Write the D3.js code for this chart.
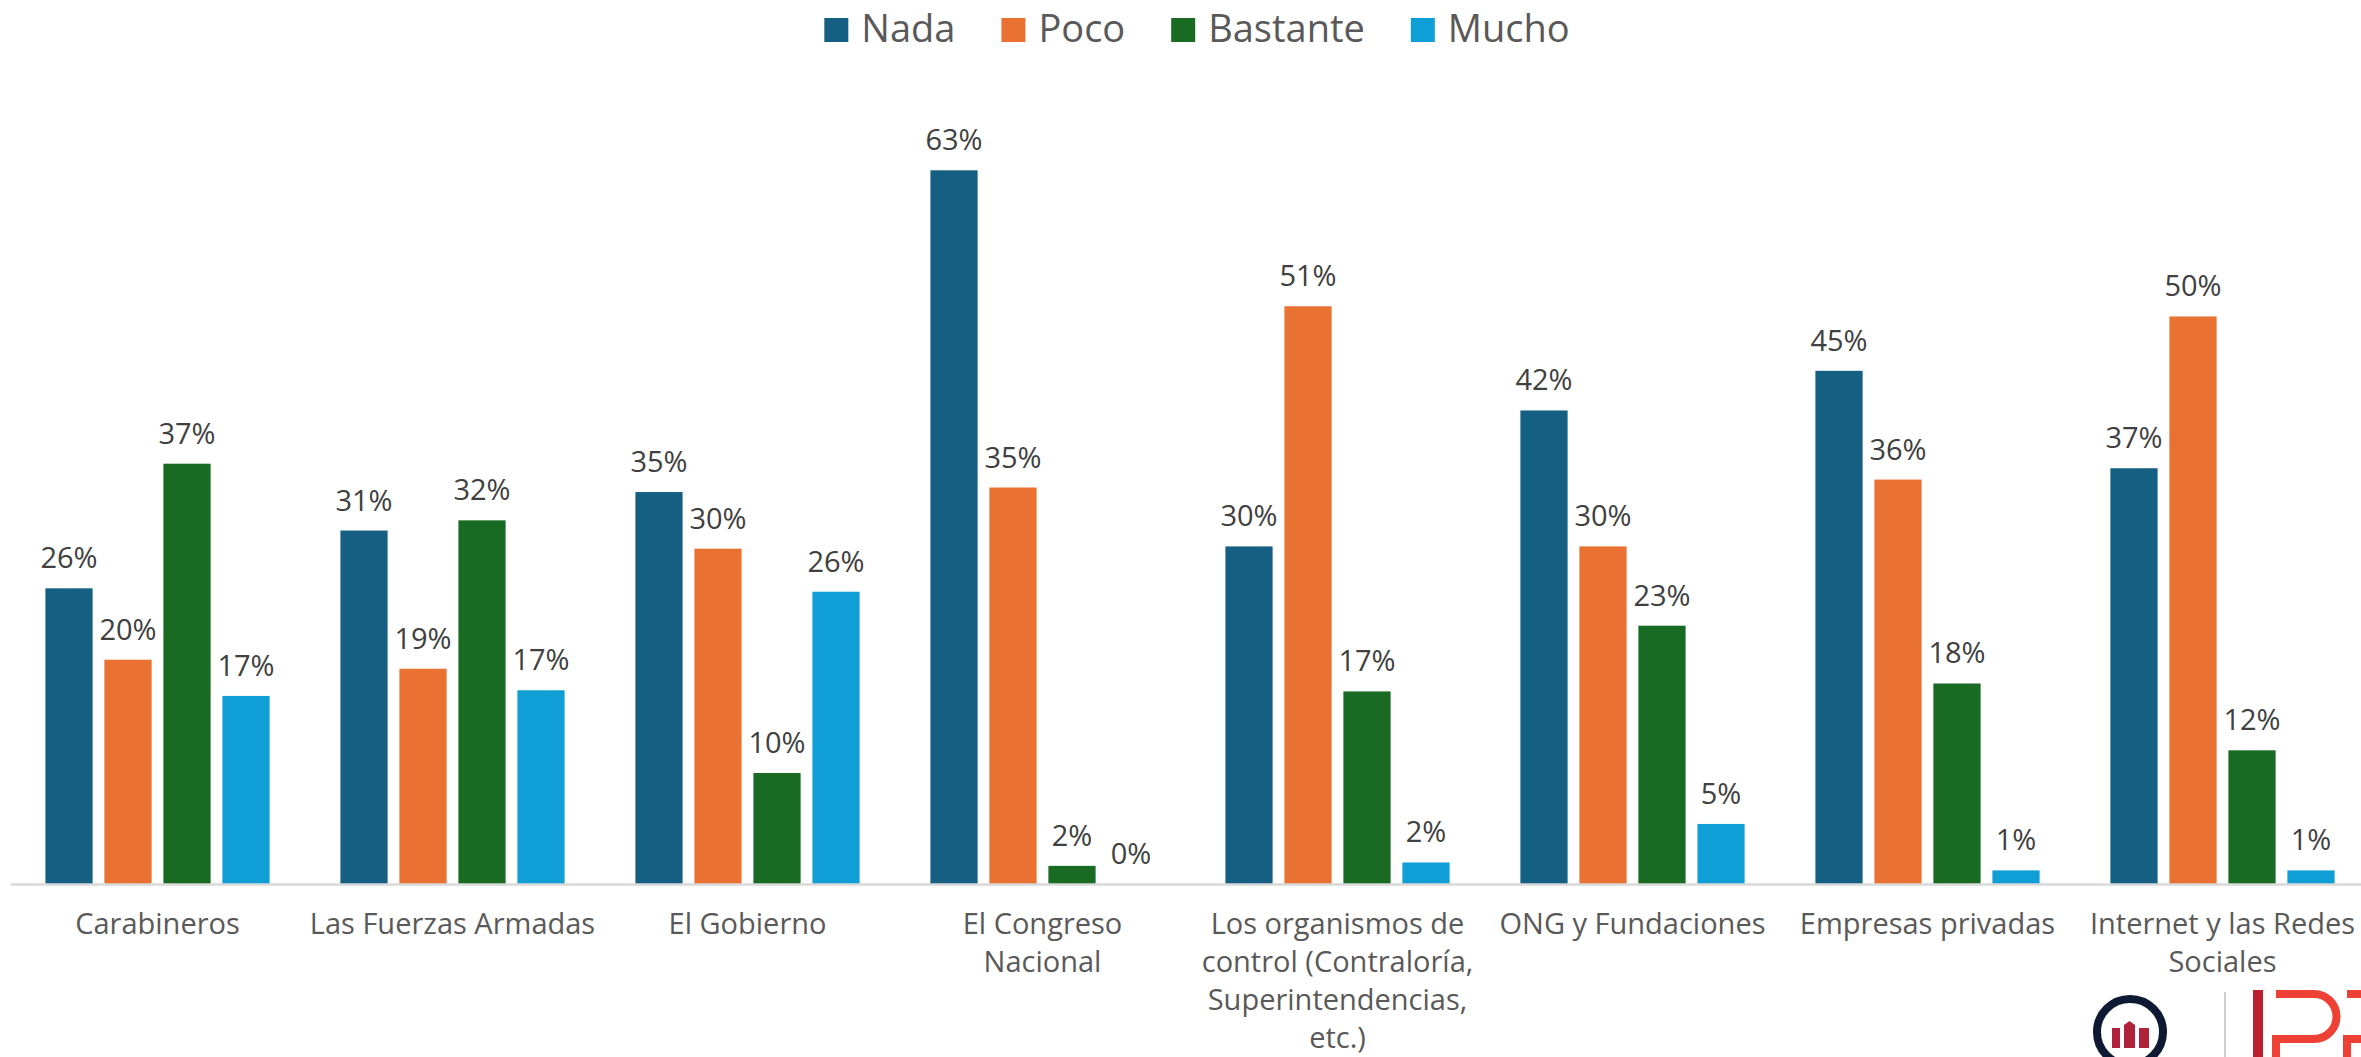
<!DOCTYPE html>
<html><head><meta charset="utf-8">
<script src="https://cdn.jsdelivr.net/npm/d3@7"></script>
<style>html,body{margin:0;padding:0;background:#fff;overflow:hidden}</style>
</head><body>
<svg id="chart" width="2361" height="1057"></svg>
<script>
const categories = ["Carabineros","Las Fuerzas Armadas","El Gobierno","El Congreso\nNacional","Los organismos de\ncontrol (Contraloría,\nSuperintendencias,\netc.)","ONG y Fundaciones","Empresas privadas","Internet y las Redes\nSociales"];
const series = ["Nada","Poco","Bastante","Mucho"];
const nada = [26.1,31.2,34.6,63.0,29.8,41.8,45.3,36.7];
const poco = [19.8,19.0,29.6,35.0,51.0,29.8,35.7,50.1];
const bastante = [37.1,32.1,9.8,1.6,17.0,22.8,17.7,11.8];
const mucho = [16.6,17.1,25.8,0,1.9,5.3,1.2,1.2];
const colors = ["#156082","#E97132","#196B24","#0F9ED5"];

const values = [nada, poco, bastante, mucho];
const font = "'Open Sans', sans-serif";
const svg = d3.select("#chart");

const x0 = d3.scaleBand().domain(categories).range([10, 2370]).paddingInner(0).paddingOuter(0);
const x1 = d3.scaleBand().domain(series).range([0, x0.bandwidth()]).paddingInner(0.2).paddingOuter(0.6);
const y = d3.scaleLinear().domain([0, 70]).range([884, 91]);
const color = d3.scaleOrdinal().domain(series).range(colors);

const rows = [];
categories.forEach((c, i) => series.forEach((s, j) => rows.push({c, s, v: values[j][i]})));

const g = svg.append("g");
g.selectAll("rect.bar").data(rows).join("rect")
  .attr("class","bar")
  .attr("x", d => x0(d.c) + x1(d.s))
  .attr("width", x1.bandwidth())
  .attr("y", d => y(d.v))
  .attr("height", d => y(0) - y(d.v))
  .attr("fill", d => color(d.s));

g.selectAll("text.lbl").data(rows).join("text")
  .attr("class","lbl")
  .attr("x", d => x0(d.c) + x1(d.s) + x1.bandwidth()/2)
  .attr("y", d => y(d.v) - 20)
  .attr("text-anchor","middle")
  .attr("font-family", font).attr("font-size", 29).attr("fill","#404040")
  .text(d => Math.round(d.v) + "%");

// axis line
const xAxis = d3.axisBottom(x0).tickSize(0).tickFormat("");
const ax = svg.append("g").attr("transform", `translate(0,${y(0)})`).call(xAxis);
ax.select(".domain").attr("stroke","#d9d9d9").attr("stroke-width",2.5);

// category labels
svg.append("g").selectAll("text.cat").data(categories).join("text")
  .attr("class","cat")
  .attr("x", d => x0(d) + x0.bandwidth()/2)
  .attr("y", 934)
  .attr("text-anchor","middle")
  .attr("font-family", font).attr("font-size", 29).attr("fill","#595959")
  .each(function(d){
    const t = d3.select(this);
    d.split("\n").forEach((line, k) => {
      t.append("tspan").attr("x", x0(d) + x0.bandwidth()/2).attr("dy", k === 0 ? 0 : 38).text(line);
    });
  });

// legend
const leg = svg.append("g");
let lx = 0;
series.forEach(s => {
  const it = leg.append("g").attr("transform", `translate(${lx},0)`);
  it.append("rect").attr("x",0).attr("y",18).attr("width",24).attr("height",24).attr("fill", color(s));
  const tx = it.append("text").attr("x",37).attr("y",42).attr("font-family",font).attr("font-size",38).attr("fill","#595959").text(s);
  lx += 37 + tx.node().getComputedTextLength() + 46;
});
const total = lx - 46;
leg.attr("transform", `translate(${1197 - total/2},0)`);

// logo
const logo = svg.append("g");
logo.append("circle").attr("cx",2130).attr("cy",1032).attr("r",33).attr("fill","none").attr("stroke","#0e1a33").attr("stroke-width",8);
logo.append("rect").attr("x",2112).attr("y",1028).attr("width",8).attr("height",20).attr("fill","#b0213a");
logo.append("path").attr("d","M2124,1025 L2129.5,1021 L2135,1025 L2135,1048 L2124,1048 Z").attr("fill","#b0213a");
logo.append("rect").attr("x",2139).attr("y",1028).attr("width",10).attr("height",20).attr("fill","#b0213a");
logo.append("line").attr("x1",2225).attr("x2",2225).attr("y1",992).attr("y2",1057).attr("stroke","#cfcfcf").attr("stroke-width",2);
logo.append("rect").attr("x",2253).attr("y",990).attr("width",10).attr("height",67).attr("fill","#bd1e30");
[2272, 2343].forEach(px => {
  logo.append("path").attr("d",`M${px+4},994 H${px+42} A21,21 0 0 1 ${px+42},1039 H${px+4} V1057`)
    .attr("fill","none").attr("stroke","#ee4035").attr("stroke-width",8);
});
</script>
</body></html>
